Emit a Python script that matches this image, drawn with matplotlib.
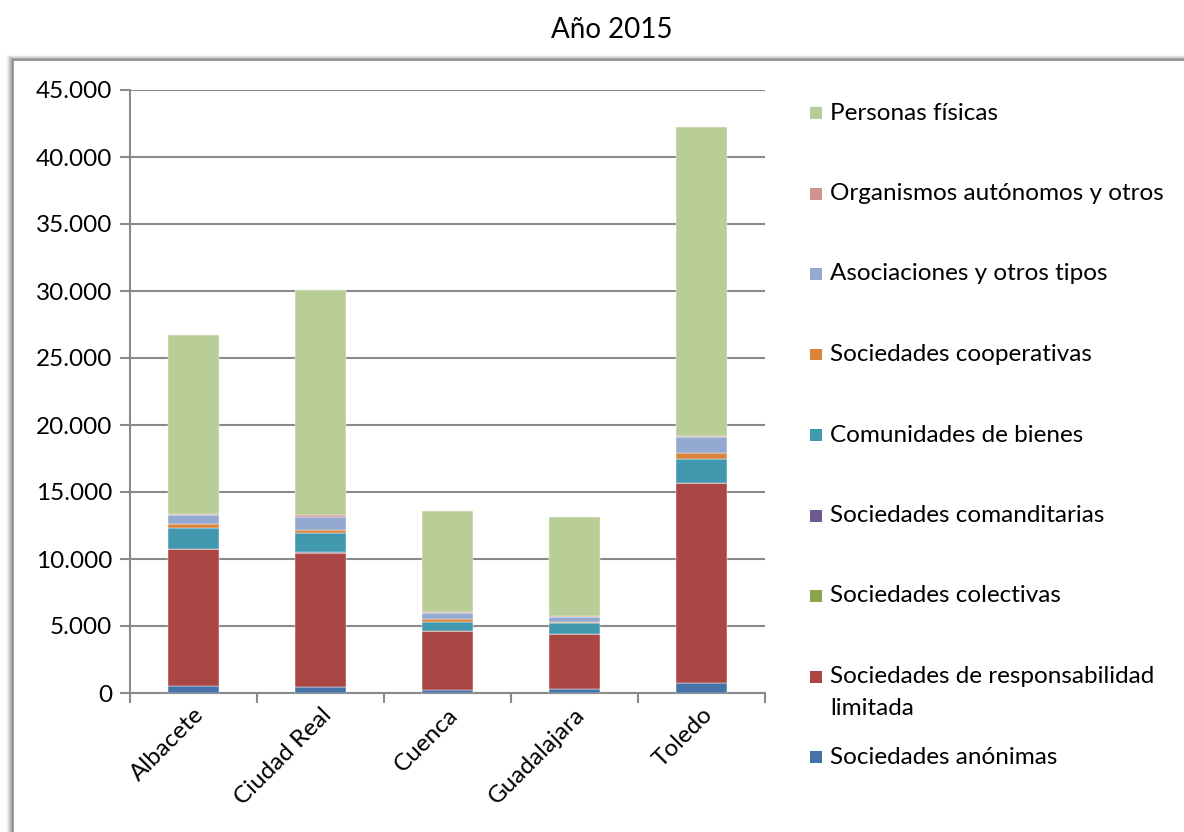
import numpy as np
import matplotlib
matplotlib.use('Agg')
import matplotlib.pyplot as plt
from matplotlib.patches import Rectangle
from matplotlib.ticker import FuncFormatter, MultipleLocator

plt.rcParams['font.family'] = ['Lato', 'DejaVu Sans']

# Datos
provincias = ['Albacete', 'Ciudad Real', 'Cuenca', 'Guadalajara', 'Toledo']

series = [
    'Sociedades anónimas',
    'Sociedades de responsabilidad\nlimitada',
    'Sociedades colectivas',
    'Sociedades comanditarias',
    'Comunidades de bienes',
    'Sociedades cooperativas',
    'Asociaciones y otros tipos',
    'Organismos autónomos y otros',
    'Personas físicas',
]

anonimas = [550, 450, 200, 280, 720]
limitada = [10200, 10020, 4400, 4100, 14930]
colectivas = [20, 15, 10, 10, 25]
comanditarias = [5, 5, 3, 3, 5]
comunidades = [1520, 1450, 710, 860, 1820]
cooperativas = [340, 250, 200, 70, 420]
asociaciones = [650, 970, 430, 370, 1170]
organismos = [100, 140, 60, 60, 100]
personas = [13320, 16800, 7550, 7380, 23060]

valores = [anonimas, limitada, colectivas, comanditarias, comunidades,
           cooperativas, asociaciones, organismos, personas]

colores = ['#4572A7', '#AA4643', '#89A54E', '#71588F', '#4198AF',
           '#DB843D', '#93A9CF', '#D19392', '#B9CD96']

W, H = 1184, 832
fig = plt.figure(figsize=(W / 100, H / 100), dpi=100)

# marco del grafico con sombra
for i, a in enumerate([0.05, 0.08, 0.12, 0.18, 0.25, 0.3]):
    off = 8 - i
    fig.patches.append(Rectangle(((14 - off) / W, 0), 1.2, (H - 60 + off * 0.6) / H,
                                 transform=fig.transFigure, facecolor='#808080',
                                 alpha=a, edgecolor='none', zorder=0))
fig.patches.append(Rectangle((13 / W, -0.01), 1.2, (H - 60) / H + 0.01,
                             transform=fig.transFigure, facecolor='white',
                             edgecolor='#8c8c8c', linewidth=1.2, zorder=1))

ax = fig.add_axes([130 / W, (H - 693) / H, 635 / W, 603 / H])
ax.set_zorder(2)
ax.patch.set_alpha(0)

x = np.arange(len(provincias))
bottom = np.zeros(len(provincias))
for vals, col in zip(valores, colores):
    ax.bar(x, vals, 0.4, bottom=bottom, color=col, edgecolor='white',
           linewidth=0.3, zorder=3)
    bottom += np.array(vals)

ax.set_xlim(-0.5, len(provincias) - 0.5)
ax.set_ylim(0, 45000)
ax.yaxis.set_major_locator(MultipleLocator(5000))
ax.yaxis.set_major_formatter(FuncFormatter(lambda v, p: f'{int(v):,}'.replace(',', '.')))
ax.yaxis.grid(True, color='#8a8a8a', linewidth=1.5, zorder=0)

ax.set_xticks(x)
ax.set_xticklabels(provincias, rotation=45, ha='right', va='top',
                   rotation_mode='anchor', fontsize=17.5)
ax.set_xticks(np.arange(-0.5, len(provincias)), minor=True)
ax.tick_params(axis='x', which='major', length=0, pad=8)
ax.tick_params(axis='x', which='minor', length=7, width=1.5, color='#8a8a8a')
ax.tick_params(axis='y', length=7, width=1.5, color='#8a8a8a', labelsize=17.5, pad=6)

for s in ['top', 'right']:
    ax.spines[s].set_visible(False)
for s in ['left', 'bottom']:
    ax.spines[s].set_color('#8a8a8a')
    ax.spines[s].set_linewidth(1.5)

fig.text(612 / W, 1 - 30 / H, 'Año 2015', ha='center', va='center', fontsize=20)

# leyenda (orden inverso, como en el original)
y0, paso = 113, 80.5
for i, (nombre, col) in enumerate(zip(series[::-1], colores[::-1])):
    yc = y0 + paso * i
    fig.patches.append(Rectangle((810 / W, 1 - (yc + 6) / H), 12 / W, 12 / H,
                                 transform=fig.transFigure, facecolor=col,
                                 edgecolor='none', zorder=3))
    for j, linea in enumerate(nombre.split('\n')):
        fig.text(830 / W, 1 - (yc + 32 * j) / H, linea, ha='left', va='center',
                 fontsize=17.5, zorder=3)

fig.savefig('out.png', dpi=100)
